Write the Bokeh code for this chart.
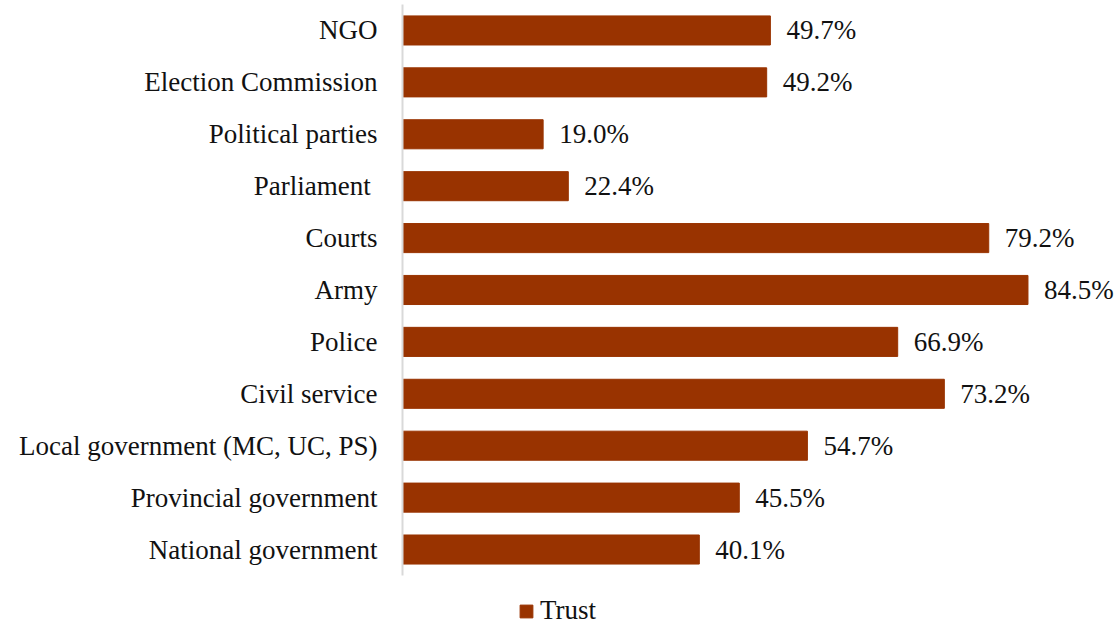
from bokeh.plotting import figure
from bokeh.models import Range1d, Legend, LegendItem, FixedTicker
from bokeh.core.properties import value
from bokeh.embed import file_html
from bokeh.resources import INLINE

# Data (top to bottom as shown)
categories = ["NGO", "Election Commission", "Political parties", "Parliament\u00a0",
              "Courts", "Army", "Police", "Civil service",
              "Local government (MC, UC, PS)", "Provincial government", "National government"]
trust = [49.7, 49.2, 19.0, 22.4, 79.2, 84.5, 66.9, 73.2, 54.7, 45.5, 40.1]
labels = [f"{v:.1f}%" for v in trust]
series_name = "Trust"

FONT = "'Liberation Serif', serif"
BAR = "#993300"

n = len(categories)
ypos = [n - 1 - i for i in range(n)]  # top category at the highest position

p = figure(width=1120, height=626, output_backend="svg", toolbar_location=None,
           y_range=Range1d(-1.483, 10.577), x_range=Range1d(0, 97.0),
           min_border_left=402, min_border_right=0, min_border_top=0, min_border_bottom=0)

r = p.hbar(y=ypos, right=trust, height=0.56, fill_color=BAR, line_color=BAR)
p.text(x=trust, y=ypos, text=labels, x_offset=16, text_baseline="middle",
       text_align="left", text_font=value(FONT), text_font_size="27px", text_color="#111111")

p.xaxis.visible = False
p.xgrid.visible = False
p.ygrid.visible = False
p.outline_line_color = None

ax = p.yaxis[0]
ax.ticker = FixedTicker(ticks=ypos)
ax.major_label_overrides = {y: c for y, c in zip(ypos, categories)}
ax.bounds = (-0.5, n - 0.5)
ax.axis_line_color = "#d9d9d9"
ax.axis_line_width = 2
ax.major_tick_line_color = None
ax.major_tick_out = 0
ax.major_tick_in = 0
ax.minor_tick_line_color = None
ax.major_label_standoff = 25
ax.major_label_text_font = "Liberation Serif"
ax.major_label_text_font_size = "27px"
ax.major_label_text_color = "#111111"

legend = Legend(items=[LegendItem(label=series_name, renderers=[r])],
                location=(116, 0), orientation="horizontal",
                glyph_width=16, glyph_height=16, label_standoff=6,
                label_text_font=FONT, label_text_font_size="27px", label_text_color="#111111",
                border_line_color=None, background_fill_alpha=0, padding=0, margin=0)
p.add_layout(legend, "center")

open("out.html", "w").write(file_html(p, INLINE))
